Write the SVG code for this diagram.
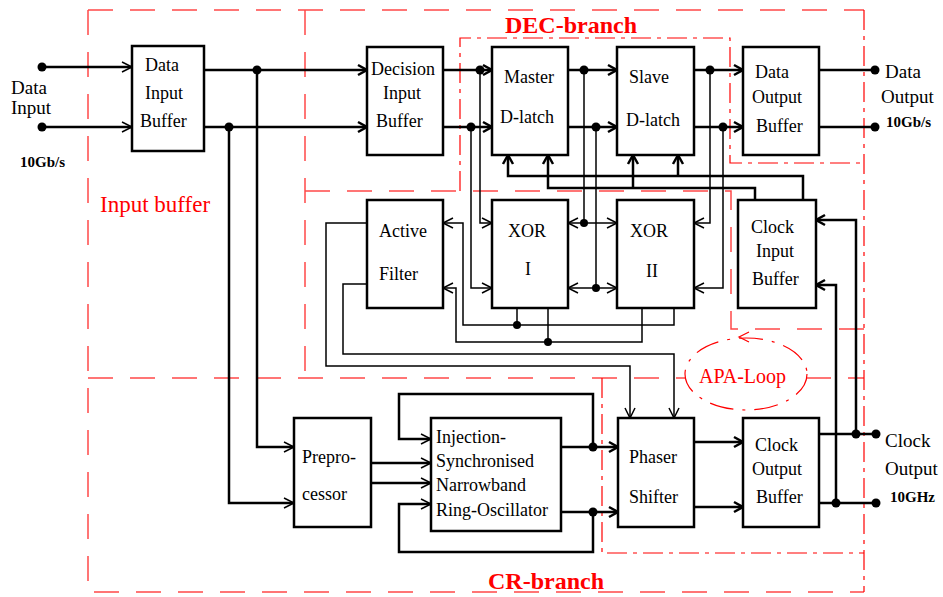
<svg xmlns="http://www.w3.org/2000/svg" width="943" height="597" viewBox="0 0 943 597">
<style>
.box{fill:#fff;stroke:#000;stroke-width:2.5}
.t{font-family:"Liberation Serif","Times New Roman",serif;font-size:18px;fill:#000}
.big{font-size:19px}
.tb{font-family:"Liberation Serif","Times New Roman",serif;font-weight:bold;font-size:15px;fill:#000}
.red{font-family:"Liberation Serif","Times New Roman",serif;fill:#f00}
.w{fill:none;stroke:#000;stroke-width:2.5}
.n{fill:none;stroke:#000;stroke-width:1.5}
.ld{fill:none;stroke:#ff4848;stroke-width:1.5;stroke-dasharray:25 17}
.dd{fill:none;stroke:#f00;stroke-width:1.2;stroke-dasharray:20 6 4 6}
.dot{fill:#000}
</style>
<defs>
<marker id="ah" markerUnits="userSpaceOnUse" markerWidth="16" markerHeight="16" viewBox="-12 -8 16 16" refX="0" refY="0" orient="auto" overflow="visible"><path d="M-9,-5 L0,0 L-9,5" fill="none" stroke="#000" stroke-width="2.5"/></marker>
<marker id="at" markerUnits="userSpaceOnUse" markerWidth="16" markerHeight="16" viewBox="-12 -8 16 16" refX="0" refY="0" orient="auto" overflow="visible"><path d="M-10,-5 L0,0 L-10,5" fill="none" stroke="#000" stroke-width="1.5"/></marker>
</defs>

<g id="regions">
<path class="ld" d="M88,10 H864"/>
<path class="ld" d="M88,10 V592 H864"/>
<path class="ld" d="M88,378 H686 M806,378 H864"/>
<path class="ld" d="M305,10 V378"/>
<path class="ld" d="M305,191 H731 V329 H864"/>
<path class="dd" d="M460,191 V38 H730 V163 H864"/>
<path class="dd" d="M864,10 V592"/>
<path class="dd" d="M602,378 V553 H864"/>
<ellipse cx="746" cy="374" rx="61" ry="36" fill="none" stroke="#f00" stroke-width="1.2" stroke-dasharray="24 9 3 9"/>
<path d="M749,332 L739,337 L749,342" fill="none" stroke="#f00" stroke-width="1.2"/>
<text class="red" x="505" y="33" font-size="24" font-weight="bold">DEC-branch</text>
<text class="red" x="488" y="589" font-size="24" font-weight="bold">CR-branch</text>
<text class="red" x="100" y="212" font-size="23">Input buffer</text>
<text class="red" x="699" y="383" font-size="20">APA-Loop</text>
</g>

<g id="connectors">
<path class="w" d="M42,67 H132" marker-end="url(#at)"/>
<path class="w" d="M42,127 H132" marker-end="url(#at)"/>
<path class="w" d="M204,70 H367" marker-end="url(#ah)"/>
<path class="w" d="M204,127 H367" marker-end="url(#ah)"/>
<path class="w" d="M257,70 V447 H294" marker-end="url(#at)"/>
<path class="w" d="M229,127 V503 H294" marker-end="url(#at)"/>
<path class="w" d="M443,70 H492" marker-end="url(#ah)"/>
<path class="w" d="M443,127 H492" marker-end="url(#ah)"/>
<path class="w" d="M568,70 H617" marker-end="url(#ah)"/>
<path class="w" d="M568,127 H617" marker-end="url(#ah)"/>
<path class="w" d="M694,70 H743" marker-end="url(#ah)"/>
<path class="w" d="M694,127 H743" marker-end="url(#ah)"/>
<path class="w" d="M819,70 H875"/>
<path class="w" d="M819,127 H875"/>
<path class="w" d="M803,200 V176 H508 V155" marker-end="url(#ah)"/>
<path class="w" d="M678,176 V155" marker-end="url(#ah)"/>
<path class="w" d="M755,200 V188 H548 V155" marker-end="url(#ah)"/>
<path class="w" d="M633,188 V155" marker-end="url(#ah)"/>
<path class="w" d="M856,434 V220 H816" marker-end="url(#ah)"/>
<path class="w" d="M836,503 V285 H816" marker-end="url(#ah)"/>
<path class="w" d="M819,434 H876"/>
<path class="w" d="M819,503 H876"/>
<path class="w" d="M694,442 H743" marker-end="url(#ah)"/>
<path class="w" d="M694,507 H743" marker-end="url(#ah)"/>
<path class="w" d="M561,447 H618" marker-end="url(#ah)"/>
<path class="w" d="M561,512 H618" marker-end="url(#ah)"/>
<path class="w" d="M593,447 V394 H399 V439 H431" marker-end="url(#at)"/>
<path class="w" d="M593,512 V552 H399 V504 H431" marker-end="url(#at)"/>
<path class="w" d="M371,463 H431" marker-end="url(#at)"/>
<path class="w" d="M371,483 H431" marker-end="url(#at)"/>

<path class="n" d="M480,70 V223 H492" marker-end="url(#at)"/>
<path class="n" d="M471,127 V288 H492" marker-end="url(#at)"/>
<path class="n" d="M584,70 V223"/>
<path class="n" d="M584,223 H568" marker-end="url(#at)"/>
<path class="n" d="M584,223 H617" marker-end="url(#at)"/>
<path class="n" d="M596,127 V288"/>
<path class="n" d="M596,288 H568" marker-end="url(#at)"/>
<path class="n" d="M596,288 H617" marker-end="url(#at)"/>
<path class="n" d="M710,70 V223 H694" marker-end="url(#at)"/>
<path class="n" d="M723,127 V288 H694" marker-end="url(#at)"/>
<path class="n" d="M674,308 V325 H463 V223 H443" marker-end="url(#at)"/>
<path class="n" d="M517,308 V325"/>
<path class="n" d="M642,308 V342 H456 V288 H443" marker-end="url(#at)"/>
<path class="n" d="M548,308 V342"/>
<path class="n" d="M367,223 H326 V366 H630 V418" marker-end="url(#at)"/>
<path class="n" d="M367,284 H343 V354 H674 V418" marker-end="url(#at)"/>

<circle class="dot" cx="42" cy="67" r="4.5"/>
<circle class="dot" cx="42" cy="127" r="4.5"/>
<circle class="dot" cx="257" cy="70" r="4.5"/>
<circle class="dot" cx="229" cy="127" r="4.5"/>
<circle class="dot" cx="480" cy="70" r="4.5"/>
<circle class="dot" cx="471" cy="127" r="4.5"/>
<circle class="dot" cx="584" cy="70" r="4.5"/>
<circle class="dot" cx="596" cy="127" r="4.5"/>
<circle class="dot" cx="710" cy="70" r="4.5"/>
<circle class="dot" cx="723" cy="127" r="4.5"/>
<circle class="dot" cx="875" cy="70" r="4.5"/>
<circle class="dot" cx="875" cy="127" r="4.5"/>
<circle class="dot" cx="856" cy="434" r="4.5"/>
<circle class="dot" cx="836" cy="503" r="4.5"/>
<circle class="dot" cx="876" cy="434" r="4.5"/>
<circle class="dot" cx="876" cy="503" r="4.5"/>
<circle class="dot" cx="593" cy="447" r="4.5"/>
<circle class="dot" cx="593" cy="512" r="4.5"/>
<circle class="dot" cx="584" cy="223" r="4"/>
<circle class="dot" cx="596" cy="288" r="4"/>
<circle class="dot" cx="517" cy="325" r="4"/>
<circle class="dot" cx="548" cy="342" r="4"/>
</g>

<g id="io-labels">
<text class="t big" x="11" y="94">Data</text>
<text class="t big" x="11" y="114">Input</text>
<text class="tb" x="20" y="167">10Gb/s</text>
<text class="t big" x="885" y="78">Data</text>
<text class="t big" x="881" y="103">Output</text>
<text class="tb" x="886" y="127">10Gb/s</text>
<text class="t big" x="885" y="447">Clock</text>
<text class="t big" x="885" y="475">Output</text>
<text class="tb" x="890" y="502">10GHz</text>
</g>

<g id="data-input-buffer">
<rect class="box" x="132" y="46" width="72" height="105"/>
<text class="t" x="145" y="71">Data</text>
<text class="t" x="145" y="99">Input</text>
<text class="t" x="140" y="127">Buffer</text>
</g>
<g id="decision-input-buffer">
<rect class="box" x="367" y="47" width="76" height="108"/>
<text class="t" x="371" y="75">Decision</text>
<text class="t" x="383" y="99">Input</text>
<text class="t" x="376" y="127">Buffer</text>
</g>
<g id="master-d-latch">
<rect class="box" x="492" y="47" width="76" height="108"/>
<text class="t" x="504" y="83">Master</text>
<text class="t" x="500" y="123">D-latch</text>
</g>
<g id="slave-d-latch">
<rect class="box" x="617" y="47" width="77" height="108"/>
<text class="t" x="629" y="83">Slave</text>
<text class="t" x="626" y="126">D-latch</text>
</g>
<g id="data-output-buffer">
<rect class="box" x="743" y="47" width="76" height="108"/>
<text class="t" x="755" y="78">Data</text>
<text class="t" x="752" y="103">Output</text>
<text class="t" x="756" y="132">Buffer</text>
</g>
<g id="active-filter">
<rect class="box" x="367" y="200" width="76" height="108"/>
<text class="t" x="379" y="237">Active</text>
<text class="t" x="379" y="280">Filter</text>
</g>
<g id="xor-i">
<rect class="box" x="492" y="200" width="76" height="108"/>
<text class="t" x="508" y="237">XOR</text>
<text class="t" x="525" y="275">I</text>
</g>
<g id="xor-ii">
<rect class="box" x="617" y="200" width="77" height="108"/>
<text class="t" x="630" y="237">XOR</text>
<text class="t" x="646" y="277">II</text>
</g>
<g id="clock-input-buffer">
<rect class="box" x="738" y="200" width="78" height="108"/>
<text class="t" x="751" y="233">Clock</text>
<text class="t" x="756" y="257">Input</text>
<text class="t" x="752" y="285">Buffer</text>
</g>
<g id="preprocessor">
<rect class="box" x="294" y="418" width="77" height="109"/>
<text class="t" x="302" y="463">Prepro-</text>
<text class="t" x="302" y="500">cessor</text>
</g>
<g id="ring-oscillator">
<rect class="box" x="431" y="418" width="130" height="113"/>
<text class="t" x="436" y="443">Injection-</text>
<text class="t" x="436" y="467">Synchronised</text>
<text class="t" x="436" y="491">Narrowband</text>
<text class="t" x="436" y="516">Ring-Oscillator</text>
</g>
<g id="phaser-shifter">
<rect class="box" x="618" y="418" width="76" height="109"/>
<text class="t" x="629" y="463">Phaser</text>
<text class="t" x="629" y="503">Shifter</text>
</g>
<g id="clock-output-buffer">
<rect class="box" x="743" y="418" width="76" height="109"/>
<text class="t" x="755" y="451">Clock</text>
<text class="t" x="752" y="475">Output</text>
<text class="t" x="756" y="503">Buffer</text>
</g>
</svg>
